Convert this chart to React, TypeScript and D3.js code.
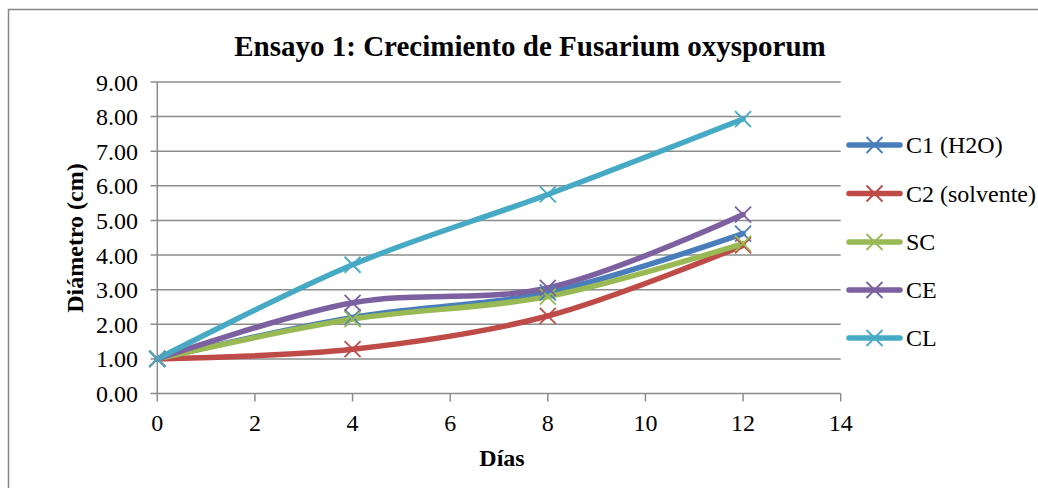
import React from "react";
import * as d3 from "d3";

const days = [0, 4, 8, 12];
const seriesNames = ["C1 (H2O)", "C2 (solvente)", "SC", "CE", "CL"];
const c1 = [1.0, 2.2, 2.92, 4.62];
const c2 = [1.0, 1.28, 2.24, 4.28];
const sc = [1.0, 2.15, 2.8, 4.33];
const ce = [1.0, 2.62, 3.05, 5.17];
const cl = [1.0, 3.72, 5.75, 7.93];
const seriesColors = ["#4A7EBB", "#BE4B48", "#98B954", "#7D60A0", "#46AAC5"];
const yTicks = [0, 1, 2, 3, 4, 5, 6, 7, 8, 9];
const xTicks = [0, 2, 4, 6, 8, 10, 12, 14];
const title = "Ensayo 1: Crecimiento de Fusarium oxysporum";
const xTitle = "Días";
const yTitle = "Diámetro (cm)";

const W = 1038;
const H = 488;
const FONT = "'Liberation Serif', 'Times New Roman', serif";

export default function App() {
  const allSeries = [c1, c2, sc, ce, cl];
  const x = d3.scaleLinear().domain([0, 14]).range([157.3, 840.7]);
  const y = d3.scaleLinear().domain([0, 9]).range([393.5, 82]);
  const line = d3
    .line<number>()
    .x((_, i) => x(days[i]))
    .y((v) => y(v))
    .curve(d3.curveCatmullRom.alpha(0.5));

  const marker = (cx: number, cy: number, color: string, key: string) => (
    <path
      key={key}
      d={`M${cx - 8},${cy - 8}L${cx + 8},${cy + 8}M${cx - 8},${cy + 8}L${cx + 8},${cy - 8}`}
      stroke={color}
      strokeWidth={1.8}
      fill="none"
    />
  );

  const legendY = [145, 193.5, 242, 290, 338];

  return (
    <svg
      width={W}
      height={H}
      style={{ position: "absolute", left: 0, top: 0, background: "#fff" }}
      fontFamily={FONT}
    >
      <rect x={0} y={0} width={W} height={H} fill="#fff" />
      <rect x={8.5} y={9.5} width={W + 100} height={H + 100} fill="none" stroke="#868686" strokeWidth={1.5} />
      <text x={530} y={56} textAnchor="middle" fontSize={29} fontWeight="bold" fill="#000">
        {title}
      </text>
      {/* gridlines */}
      {yTicks.map((t) => (
        <g key={"y" + t}>
          <line x1={150.5} x2={t === 0 ? 157.3 : 840.7} y1={y(t)} y2={y(t)} stroke="#8c8c8c" strokeWidth={1.5} />
          <text x={138} y={y(t) + 8.5} textAnchor="end" fontSize={24} fill="#000">
            {t.toFixed(2)}
          </text>
        </g>
      ))}
      {/* axes */}
      <line x1={157.3} x2={157.3} y1={y(9)} y2={y(0)} stroke="#8c8c8c" strokeWidth={1.5} />
      <line x1={157.3} x2={840.7} y1={y(0)} y2={y(0)} stroke="#8c8c8c" strokeWidth={1.5} />
      {xTicks.map((t) => (
        <g key={"x" + t}>
          <line x1={x(t)} x2={x(t)} y1={y(0)} y2={y(0) + 8} stroke="#8c8c8c" strokeWidth={1.5} />
          <text x={x(t)} y={431} textAnchor="middle" fontSize={24} fill="#000">
            {t}
          </text>
        </g>
      ))}
      <text x={502} y={466} textAnchor="middle" fontSize={24} fontWeight="bold" fill="#000">
        {xTitle}
      </text>
      <text
        transform={`translate(83,238) rotate(-90)`}
        textAnchor="middle"
        fontSize={24}
        fontWeight="bold"
        fill="#000"
      >
        {yTitle}
      </text>
      {/* series */}
      {allSeries.map((s, si) => (
        <g key={"s" + si}>
          <path d={line(s) || ""} fill="none" stroke={seriesColors[si]} strokeWidth={5.5} strokeLinecap="round" />
        </g>
      ))}
      {allSeries.map((s, si) => (
        <g key={"m" + si}>{s.map((v, i) => marker(x(days[i]), y(v), seriesColors[si], `${si}-${i}`))}</g>
      ))}
      {/* legend */}
      {seriesNames.map((n, i) => (
        <g key={"l" + i}>
          <line x1={849} x2={900} y1={legendY[i]} y2={legendY[i]} stroke={seriesColors[i]} strokeWidth={5.5} strokeLinecap="round" />
          {marker(874.5, legendY[i], seriesColors[i], "lm" + i)}
          <text x={906} y={legendY[i] + 8} fontSize={24} fill="#000">
            {n}
          </text>
        </g>
      ))}
    </svg>
  );
}
